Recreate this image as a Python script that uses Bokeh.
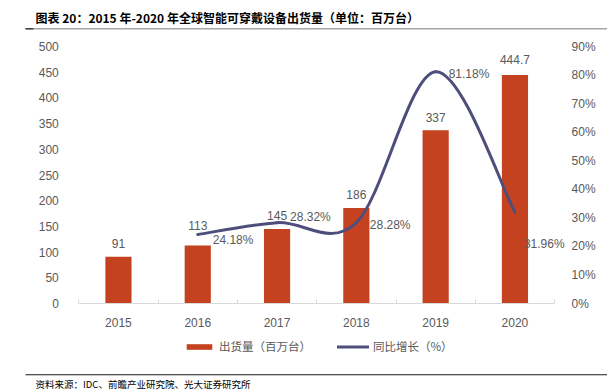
import numpy as np
from bokeh.plotting import figure
from bokeh.models import (ColumnDataSource, Range1d, LinearAxis, FixedTicker, Label,
                          LabelSet, BoxAnnotation, Legend, LegendItem)
from bokeh.core.properties import value
from bokeh.embed import file_html
from bokeh.resources import INLINE

# ---------------- data ----------------
years = ["2015", "2016", "2017", "2018", "2019", "2020"]
shipments = [91, 113, 145, 186, 337, 444.7]
shipment_labels = ["91", "113", "145", "186", "337", "444.7"]
growth_years = ["2016", "2017", "2018", "2019", "2020"]
growth = [24.18, 28.32, 28.28, 81.18, 31.96]
growth_labels = ["24.18%", "28.32%", "28.28%", "81.18%", "31.96%"]
left_ticks = [0, 50, 100, 150, 200, 250, 300, 350, 400, 450, 500]
right_ticks = [0, 10, 20, 30, 40, 50, 60, 70, 80, 90]
bar_name = "出货量（百万台）"
line_name = "同比增长（%）"
title_text = "图表 20：2015 年-2020 年全球智能可穿戴设备出货量（单位：百万台）"
source_text = "资料来源：IDC、前瞻产业研究院、光大证券研究所"

# ---------------- style / layout ----------------
BAR_COLOR = "#C4421F"
LINE_COLOR = "#4E4E7C"
TXT = "#595959"
LAT = "Liberation Sans"
CJK = "Noto Sans CJK SC"
W, H = 607, 392
bar_label_dy = [13, 20, 13, 13, 13, 15]
growth_dx = [15, 13, 13.5, 13, 9]
growth_dy = [-6, 6, -2.4, -2, -32]

# pixel geometry of the plotting area inside the canvas
AX_LEFT, CAT_W = 78.3, 79.3           # left edge of first category, width of one category
Y0_PX, Y_TOP_PX = 303.0, 46.0         # canvas rows of value 0 and of the top tick
n = len(years)
ymax, pmax = left_ticks[-1], right_ticks[-1]
sy = (Y0_PX - Y_TOP_PX) / ymax
sp = (Y0_PX - Y_TOP_PX) / pmax
x_start = -0.5 - AX_LEFT / CAT_W
x_end = x_start + W / CAT_W

x_bar = list(range(n))
x_growth = [years.index(y) for y in growth_years]

p = figure(width=W, height=H, x_range=Range1d(x_start, x_end),
           y_range=Range1d(-(H - Y0_PX) / sy, Y0_PX / sy),
           output_backend="svg", toolbar_location=None, min_border=0)
p.extra_y_ranges = {"pct": Range1d(-(H - Y0_PX) / sp, Y0_PX / sp)}
p.xgrid.visible = False
p.ygrid.visible = False
p.outline_line_color = None

xa = p.xaxis[0]
xa.fixed_location = 0
xa.bounds = (-0.5, n - 0.5)
xa.ticker = FixedTicker(ticks=x_bar, minor_ticks=[i - 0.5 for i in range(n + 1)])
xa.major_label_overrides = {i: y for i, y in zip(x_bar, years)}
xa.axis_line_color = "#D9D9D9"
xa.major_tick_line_color = None
xa.minor_tick_line_color = "#D9D9D9"
xa.minor_tick_in = 4
xa.minor_tick_out = 0
xa.major_label_standoff = 8
xa.major_label_text_font = LAT
xa.major_label_text_font_size = "12px"
xa.major_label_text_color = TXT

ya = p.yaxis[0]
ya.fixed_location = -0.5
ya.bounds = (0, ymax)
ya.ticker = FixedTicker(ticks=left_ticks)
ya.axis_line_color = None
ya.major_tick_line_color = None
ya.minor_tick_line_color = None
ya.major_label_standoff = 14
ya.major_label_text_font = LAT
ya.major_label_text_font_size = "12px"
ya.major_label_text_color = TXT

ra = LinearAxis(y_range_name="pct", ticker=FixedTicker(ticks=right_ticks),
                major_label_overrides={t: f"{t}%" for t in right_ticks})
ra.fixed_location = n - 0.5
ra.bounds = (0, pmax)
ra.axis_line_color = None
ra.major_tick_line_color = None
ra.minor_tick_line_color = None
ra.major_label_standoff = 11
ra.major_label_text_font = LAT
ra.major_label_text_font_size = "12px"
ra.major_label_text_color = TXT
p.add_layout(ra, "right")

bar_src = ColumnDataSource(dict(x=x_bar, top=shipments, label=shipment_labels, dy=bar_label_dy))
bars = p.vbar(x="x", top="top", width=0.33, source=bar_src, fill_color=BAR_COLOR, line_color=None)
p.add_layout(LabelSet(x="x", y="top", text="label", y_offset="dy", source=bar_src,
                      text_align="center", text_baseline="middle", text_font=value(LAT),
                      text_font_size="12px", text_color=TXT))

# smoothed growth line: cubic Bezier segments through the data points
gx = np.array(x_growth, dtype=float)
gy = np.array(growth, dtype=float)
px = np.concatenate([[gx[0]], gx, [gx[-1]]])
py = np.concatenate([[gy[0]], gy, [gy[-1]]])
bez = dict(x0=[], y0=[], x1=[], y1=[], cx0=[], cy0=[], cx1=[], cy1=[])
for i in range(len(gx) - 1):
    bez["x0"].append(gx[i]); bez["y0"].append(gy[i])
    bez["x1"].append(gx[i + 1]); bez["y1"].append(gy[i + 1])
    bez["cx0"].append(gx[i] + (px[i + 2] - px[i]) / 6)
    bez["cy0"].append(gy[i] + (py[i + 2] - py[i]) / 6)
    bez["cx1"].append(gx[i + 1] - (px[i + 3] - px[i + 1]) / 6)
    bez["cy1"].append(gy[i + 1] - (py[i + 3] - py[i + 1]) / 6)
curve = p.bezier(x0="x0", y0="y0", x1="x1", y1="y1", cx0="cx0", cy0="cy0", cx1="cx1", cy1="cy1",
                 source=ColumnDataSource(bez), line_color=LINE_COLOR, line_width=3,
                 line_cap="round", y_range_name="pct")

g_src = ColumnDataSource(dict(x=x_growth, y=growth, label=growth_labels, dx=growth_dx, dy=growth_dy))
p.add_layout(LabelSet(x="x", y="y", text="label", x_offset="dx", y_offset="dy", source=g_src,
                      y_range_name="pct", text_align="left", text_baseline="middle",
                      text_font=value(LAT), text_font_size="12px", text_color=TXT))

legend = Legend(items=[LegendItem(label=bar_name, renderers=[bars]),
                       LegendItem(label=line_name, renderers=[curve])],
                orientation="horizontal", location=(183, 38),
                glyph_width=32, glyph_height=7, label_standoff=4, spacing=26,
                padding=0, margin=0, border_line_color=None, background_fill_alpha=0,
                label_text_font=CJK, label_text_font_size="11.5px", label_text_color=TXT)
p.add_layout(legend)

# title, rules and source note (screen units, y measured up from the bottom)
def rule(x0, x1, y_top_px, thick, color):
    p.add_layout(BoxAnnotation(left=x0, right=x1, top=H - y_top_px, bottom=H - y_top_px - thick,
                               left_units="screen", right_units="screen",
                               bottom_units="screen", top_units="screen",
                               fill_color=color, fill_alpha=1, line_color=None))

p.add_layout(Label(x=35, y=H - 17, x_units="screen", y_units="screen", text=title_text,
                   text_font=CJK, text_font_size="12px", text_font_style="bold",
                   text_color="#000000", text_align="left", text_baseline="middle"))
rule(25, W, 27.5, 1.5, "#A6A6A6")
rule(25, 33, 27.5, 1.5, "#404040")
rule(25, W, 373.8, 1, "#1A1A1A")
p.add_layout(Label(x=35, y=H - 383, x_units="screen", y_units="screen", text=source_text,
                   text_font=CJK, text_font_size="9.5px", text_color="#000000",
                   text_align="left", text_baseline="middle"))

open("out.html", "w").write(file_html(p, INLINE))
